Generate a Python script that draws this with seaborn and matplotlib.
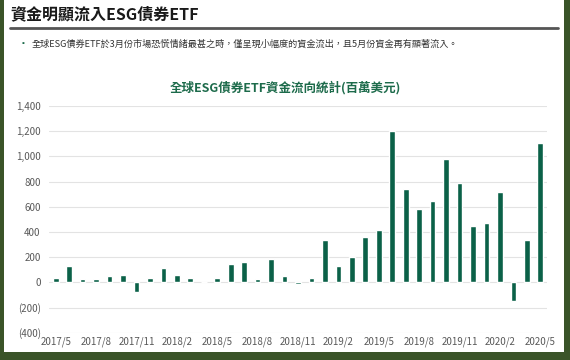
import matplotlib
matplotlib.use("Agg")
import matplotlib.pyplot as plt
import matplotlib.patches as patches
import matplotlib.ticker as mticker
import seaborn as sns
import pandas as pd

# 資料 (百萬美元), 2017/5 - 2020/5
months = [
    "2017/5", "2017/6", "2017/7", "2017/8", "2017/9", "2017/10", "2017/11", "2017/12",
    "2018/1", "2018/2", "2018/3", "2018/4", "2018/5", "2018/6", "2018/7", "2018/8",
    "2018/9", "2018/10", "2018/11", "2018/12", "2019/1", "2019/2", "2019/3", "2019/4",
    "2019/5", "2019/6", "2019/7", "2019/8", "2019/9", "2019/10", "2019/11", "2019/12",
    "2020/1", "2020/2", "2020/3", "2020/4", "2020/5",
]
flows = [
    36, 132, 26, 26, 48, 56, -74, 32,
    117, 56, 32, 0, 34, 148, 162, 24,
    183, 48, -12, 37, 336, 127, 201, 360,
    416, 1200, 744, 583, 649, 983, 789, 450,
    469, 715, -146, 336, 1105,
]
tick_labels = months[::3]

main_title = "資金明顯流入ESG債券ETF"
bullet_text = "全球ESG債券ETF於3月份市場恐慌情緒最甚之時，僅呈現小幅度的資金流出，且5月份資金再有顯著流入。"
chart_title = "全球ESG債券ETF資金流向統計(百萬美元)"

BORDER = "#3a5428"
BAR = "#0b6148"
TITLE_GREEN = "#1d6b4b"
FONTS = ["Noto Sans CJK TC", "DejaVu Sans"]

sns.set_style("white")
plt.rcParams["font.family"] = FONTS

df = pd.DataFrame({"month": months, "flow": flows})

fig = plt.figure(figsize=(5.7, 3.6), dpi=100)
fig.patch.set_facecolor(BORDER)

# 白色內容區
fig.add_artist(patches.Rectangle((4 / 570, 1 - 352 / 360), (564 - 4) / 570, 352 / 360,
                                 transform=fig.transFigure, facecolor="white",
                                 edgecolor="none", zorder=0))

# 標題與分隔線
fig.text(10 / 570, 1 - 14 / 360, main_title, fontsize=11.5, fontweight="bold",
         color="#1a1a1a", va="center", ha="left")
fig.add_artist(plt.Line2D([10 / 570, 558 / 570], [1 - 28 / 360, 1 - 28 / 360],
                          transform=fig.transFigure, color="#555555", lw=2))
fig.text(20 / 570, 1 - 44 / 360, "▪", fontsize=5, color="#1d6b4b", va="center")
fig.text(32 / 570, 1 - 44 / 360, bullet_text, fontsize=6.6, color="#333333", va="center")
fig.text(285 / 570, 1 - 88 / 360, chart_title, fontsize=9, fontweight="bold",
         color=TITLE_GREEN, va="center", ha="center")

ax = fig.add_axes([49 / 570, 1 - 332.7 / 360, 498 / 570, (332.7 - 106) / 360])
ax.set_facecolor("none")
sns.barplot(data=df, x="month", y="flow", order=months, color=BAR, width=0.42,
            saturation=1, ax=ax, zorder=3)

ax.set_ylim(-400, 1400)
ax.set_xlim(-0.5, len(months) - 0.5)
ax.yaxis.set_major_locator(mticker.MultipleLocator(200))
ax.yaxis.set_major_formatter(mticker.FuncFormatter(
    lambda v, p: f"({abs(v):,.0f})" if v < 0 else f"{v:,.0f}"))
ax.set_xticks(range(0, len(months), 3))
ax.set_xticklabels(tick_labels)
ax.grid(axis="y", color="#e3e3e3", lw=0.8, zorder=0)
for s in ax.spines.values():
    s.set_visible(False)
ax.tick_params(axis="both", length=0, labelsize=7, colors="#595959")
ax.tick_params(axis="y", pad=6)
ax.tick_params(axis="x", pad=3)
ax.set_xlabel("")
ax.set_ylabel("")

fig.savefig("out.png", dpi=100, facecolor=fig.get_facecolor())
